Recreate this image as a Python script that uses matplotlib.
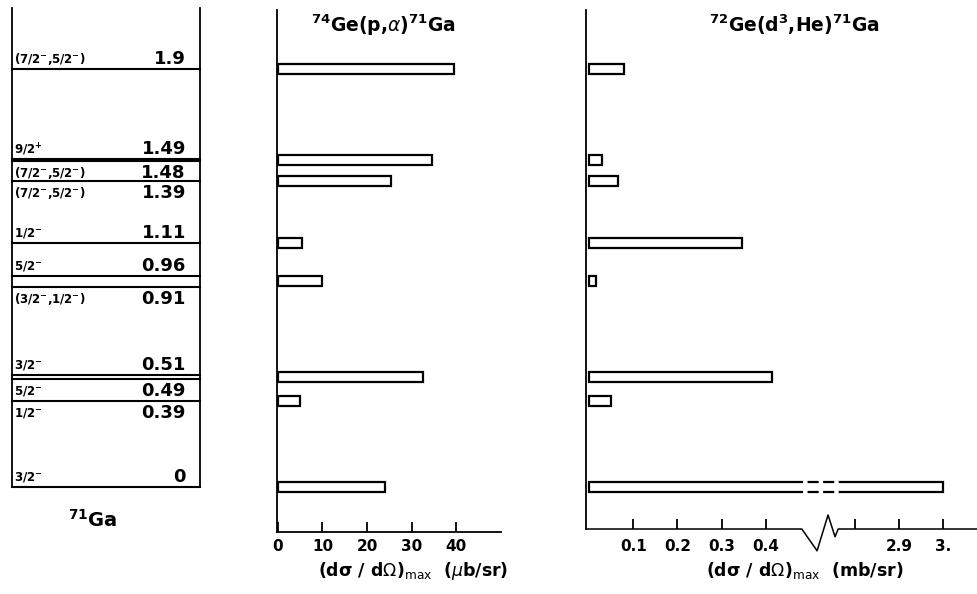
import numpy as np
import matplotlib
matplotlib.use('Agg')
import matplotlib.pyplot as plt

plt.rcParams['font.family'] = ['DejaVu Sans']
plt.rcParams['mathtext.default'] = 'regular'

# ---------------------------------------------------------------------------
# Data: level scheme of 71Ga and max cross sections of the two reactions
# ---------------------------------------------------------------------------
level_energies = [0.0, 0.39, 0.49, 0.51, 0.91, 0.96, 1.11, 1.39, 1.48, 1.49, 1.9]
level_names = ['0', '0.39', '0.49', '0.51', '0.91', '0.96', '1.11', '1.39', '1.48', '1.49', '1.9']
level_spins = [r'3/2$^{-}$', r'1/2$^{-}$', r'5/2$^{-}$', r'3/2$^{-}$', r'(3/2$^{-}$,1/2$^{-}$)',
               r'5/2$^{-}$', r'1/2$^{-}$', r'(7/2$^{-}$,5/2$^{-}$)', r'(7/2$^{-}$,5/2$^{-}$)',
               r'9/2$^{+}$', r'(7/2$^{-}$,5/2$^{-}$)']
label_above = [True, False, False, True, False, True, True, False, False, True, True]

bar_energies = [1.9, 1.485, 1.39, 1.11, 0.935, 0.50, 0.39, 0.0]
pa_values = [39.5, 34.5, 25.5, 5.5, 10.0, 32.5, 5.0, 24.0]          # mub/sr
he3_values = [0.08, 0.03, 0.065, 0.345, 0.015, 0.415, 0.05, 3.0]    # mb/sr

pa_ticks = [0, 10, 20, 30, 40]
pa_ticklabels = ['0', '10', '20', '30', '40']
he3_ticks = [0.1, 0.2, 0.3, 0.4, 2.8, 2.9, 3.0]
he3_ticklabels = ['0.1', '0.2', '0.3', '0.4', '', '2.9', '3.']

# ---------------------------------------------------------------------------
# Layout (pixels of the 977x594 picture)
# ---------------------------------------------------------------------------
W, H = 977, 594
ZERO_Y = 487          # pixel row of the ground state
PX_PER_MEV = 220
BAR_H = 0.047

fig = plt.figure(figsize=(W / 100, H / 100), dpi=100)


def add_ax(left, top, right, bottom):
    return fig.add_axes([left / W, 1 - bottom / H, (right - left) / W, (bottom - top) / H])


def ylim_for(top, bottom):
    return ((ZERO_Y - bottom) / PX_PER_MEV, (ZERO_Y - top) / PX_PER_MEV)


def ftext(x, y, s, **kw):
    fig.text(x / W, 1 - y / H, s, **kw)


# --- level scheme ---
ax0 = add_ax(12, 8, 200, ZERO_Y)
ax0.set_xlim(0, 1)
ax0.set_ylim(*ylim_for(8, ZERO_Y))
for s in ['top', 'bottom']:
    ax0.spines[s].set_visible(False)
for s in ['left', 'right']:
    ax0.spines[s].set_linewidth(1.3)
ax0.set_xticks([])
ax0.set_yticks([])
for E, name, spin, above in zip(level_energies, level_names, level_spins, label_above):
    ax0.axhline(E, color='k', lw=1.5, clip_on=False)
    dy = 7.0 if above else -8.5
    ax0.annotate(name, xy=(0.925, E), xycoords=('axes fraction', 'data'), xytext=(0, dy),
                 textcoords='offset points', ha='right', va='center', fontsize=13, fontweight='bold')
    ax0.annotate(spin, xy=(0.008, E), xycoords=('axes fraction', 'data'), xytext=(0, dy),
                 textcoords='offset points', ha='left', va='center', fontsize=8.5, fontweight='bold')
ftext(93, 520, r'$^{71}$Ga', ha='center', va='center', fontsize=14, fontweight='bold')

# --- 74Ge(p,alpha) ---
ax1 = add_ax(277, 10, 501, 532)
ax1.set_ylim(*ylim_for(10, 532))
ax1.set_xlim(-0.22, 50.1)
ax1.barh(bar_energies, pa_values, height=BAR_H, color='white', edgecolor='k', lw=1.6)
ax1.spines['top'].set_visible(False)
ax1.spines['right'].set_visible(False)
for s in ['left', 'bottom']:
    ax1.spines[s].set_linewidth(1.3)
ax1.set_yticks([])
ax1.set_xticks(pa_ticks)
ax1.set_xticklabels(pa_ticklabels, fontsize=11, fontweight='bold')
ax1.tick_params(axis='x', direction='in', length=7.5, width=1.3, pad=5)
ftext(383, 25, r'$^{74}$Ge(p,$\mathit{\alpha}$)$^{71}$Ga', ha='center', va='center',
      fontsize=13.5, fontweight='bold')
ftext(413, 560, r'(d$\sigma$ / d$\mathit{\Omega}$)$_{\mathrm{max}}$  ($\mathit{\mu}$b/sr)',
      ha='center', va='top', fontsize=12.5, fontweight='bold')

# --- 72Ge(d,3He) with broken x axis ---
BREAK_LO, BREAK_HI, GAP = 0.481, 2.761, 0.081
xs_in = [-10, BREAK_LO, BREAK_HI, 20]
xs_out = [-10, BREAK_LO, BREAK_LO + GAP, BREAK_LO + GAP + 20 - BREAK_HI]


def fwd(v):
    return np.interp(v, xs_in, xs_out)


def inv(u):
    return np.interp(u, xs_out, xs_in)


ax2 = add_ax(586, 10, 977, 529)
ax2.set_xscale('function', functions=(fwd, inv))
ax2.set_xlim(-0.007, 3.077)
ax2.set_ylim(*ylim_for(10, 529))
ax2.barh(bar_energies, he3_values, height=BAR_H, color='white', edgecolor='k', lw=1.6)
# broken bar: dashed outline across the break
for E, v in zip(bar_energies, he3_values):
    if v > BREAK_HI:
        for yy in (E - BAR_H / 2, E + BAR_H / 2):
            ax2.plot([0.4595, 2.781], [yy, yy], color='white', lw=2.8, solid_capstyle='butt')
            ax2.plot([0.4595, 2.781], [yy, yy], color='k', lw=1.6, ls=(0, (5, 2)))
for s in ['top', 'right', 'bottom']:
    ax2.spines[s].set_visible(False)
ax2.spines['left'].set_linewidth(1.3)
ax2.plot([0, 0.552, 0.591, 0.619, 0.637, 0.645, 1], [0, 0, -0.042, 0.027, -0.015, 0, 0],
         transform=ax2.transAxes, color='k', lw=1.1, clip_on=False)
ax2.set_yticks([])
ax2.set_xticks(he3_ticks)
ax2.set_xticklabels(he3_ticklabels, fontsize=11, fontweight='bold')
ax2.xaxis.set_minor_locator(matplotlib.ticker.NullLocator())
ax2.tick_params(axis='x', direction='in', length=7.5, width=1.3, pad=7)
ftext(794, 25, r'$^{72}$Ge(d$^{3}$,He)$^{71}$Ga', ha='center', va='center',
      fontsize=13.5, fontweight='bold')
ftext(805, 560, r'(d$\sigma$ / d$\mathit{\Omega}$)$_{\mathrm{max}}$  (mb/sr)',
      ha='center', va='top', fontsize=12.5, fontweight='bold')

fig.savefig('out.png', dpi=100)
